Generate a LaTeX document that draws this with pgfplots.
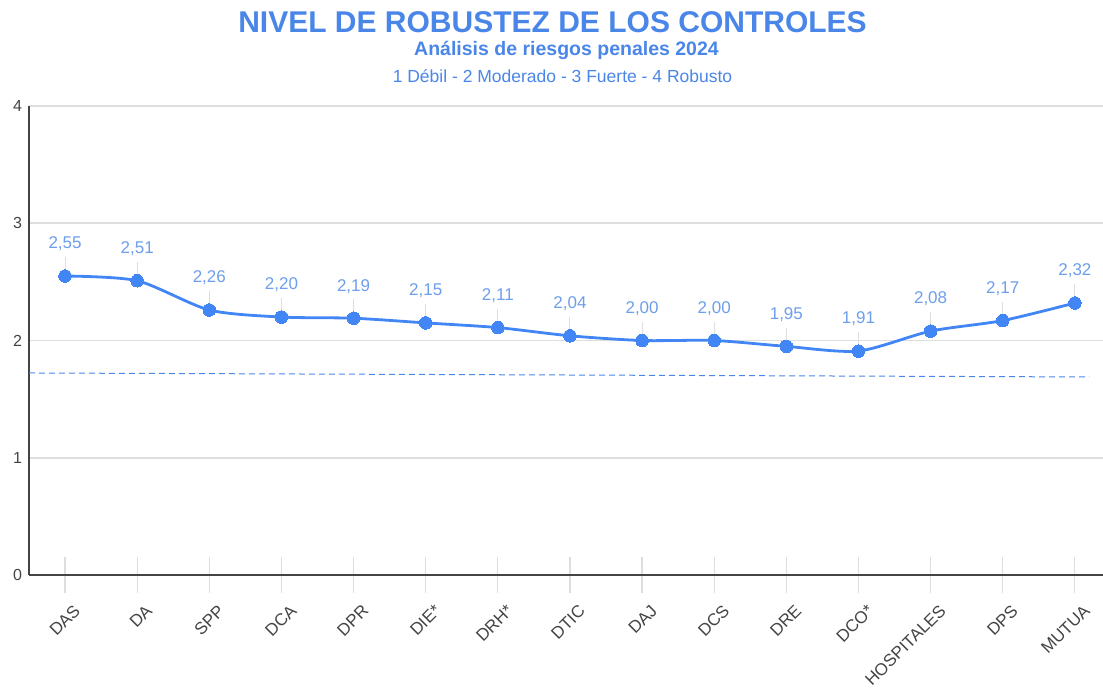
\documentclass[border=0pt]{standalone}
\usepackage{pgfplots}
\pgfplotsset{compat=1.18}
\usepackage{fontspec}
\setmainfont{Liberation Sans}
\definecolor{tblue}{HTML}{4A86E8}
\definecolor{lblue}{HTML}{4285F4}
\definecolor{dlab}{HTML}{6D9EEB}
\definecolor{gridc}{HTML}{DEDEDE}
\definecolor{axc}{HTML}{444444}
\begin{document}
\begin{tikzpicture}[x=1pt,y=1pt]
\path[use as bounding box] (0,0) rectangle (1103,691);
\node[font=\fontsize{30}{32}\selectfont\bfseries, text=tblue] at (552.5,668.5) {NIVEL DE ROBUSTEZ DE LOS CONTROLES};
\node[font=\fontsize{19.5}{22}\selectfont\bfseries, text=tblue] at (566.5,641) {Análisis de riesgos penales 2024};
\node[font=\fontsize{17.5}{20}\selectfont, text=tblue] at (562.5,615) {1 Débil - 2 Moderado - 3 Fuerte - 4 Robusto};
\begin{axis}[
  at={(29pt,116pt)}, anchor=south west,
  scale only axis, width=1074pt, height=469pt,
  xmin=-0.5, xmax=14.39, ymin=0, ymax=4,
  axis x line*=bottom, axis y line*=left,
  x axis line style={axc, line width=1.6pt, -},
  y axis line style={axc, line width=1.2pt, -},
  ytick={0,1,2,3,4},
  ymajorgrids, grid style={gridc, line width=1.6pt},
  ytick style={draw=none},
  xtick={0,...,14},
  xticklabels={DAS,DA,SPP,DCA,DPR,DIE*,DRH*,DTIC,DAJ,DCS,DRE,DCO*,HOSPITALES,DPS,MUTUA},
  xtick style={gridc, line width=1.2pt},
  tick align=center, major tick length=35pt,
  xticklabel style={rotate=45, anchor=north east, font=\fontsize{17}{19}\selectfont, text=axc, yshift=-10pt, xshift=1pt},
  yticklabel style={font=\fontsize{16}{18}\selectfont, text=axc, anchor=east, xshift=14pt},
  /pgf/number format/assume math mode=true,
  clip=false,
]
\addplot[quiver={u=0,v=0.16}, draw=gridc, line width=1pt, -] coordinates {
 (0,2.55) (1,2.51) (2,2.26) (3,2.20) (4,2.19) (5,2.15) (6,2.11) (7,2.04) (8,2.00) (9,2.00) (10,1.95) (11,1.91) (12,2.08) (13,2.17) (14,2.32)};
\addplot[tblue, line width=1pt, dash pattern=on 6pt off 4pt] coordinates {(-0.5,1.723) (14.2,1.689)};
\addplot[lblue, line width=2.8pt, smooth, tension=0.45, mark=*, mark size=6.3pt,
  mark options={fill=lblue, draw=lblue, line width=0pt},
  nodes near coords,
  every node near coord/.append style={font=\fontsize{17}{19}\selectfont, text=dlab, anchor=center, yshift=32pt},
  /pgf/number format/.cd, fixed, fixed zerofill, precision=2, use comma, assume math mode=true
] coordinates {
 (0,2.55) (1,2.51) (2,2.26) (3,2.20) (4,2.19) (5,2.15) (6,2.11) (7,2.04) (8,2.00) (9,2.00) (10,1.95) (11,1.91) (12,2.08) (13,2.17) (14,2.32)};
\end{axis}
\end{tikzpicture}
\end{document}
